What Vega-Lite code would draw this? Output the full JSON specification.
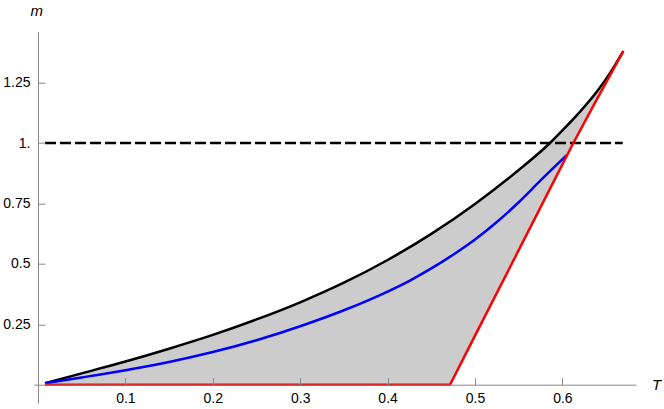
{
  "$schema": "https://vega.github.io/schema/vega-lite/v6.json",
  "width": 602,
  "height": 371.3,
  "autosize": "none",
  "padding": {"left": 34, "top": 31.7, "right": 28, "bottom": 6},
  "background": "white",
  "config": {
    "view": {"stroke": null}
  },
  "datasets": {
    "fill": [
      {"T": 0.008, "top": 0.006, "bottom": 0},
      {"T": 0.05, "top": 0.047, "bottom": 0},
      {"T": 0.1, "top": 0.096, "bottom": 0},
      {"T": 0.15, "top": 0.149, "bottom": 0},
      {"T": 0.2, "top": 0.206, "bottom": 0},
      {"T": 0.25, "top": 0.27, "bottom": 0},
      {"T": 0.3, "top": 0.341, "bottom": 0},
      {"T": 0.35, "top": 0.422, "bottom": 0},
      {"T": 0.4, "top": 0.516, "bottom": 0},
      {"T": 0.45, "top": 0.624, "bottom": 0},
      {"T": 0.4714, "top": 0.676, "bottom": 0},
      {"T": 0.5, "top": 0.748, "bottom": 0.203},
      {"T": 0.54, "top": 0.859, "bottom": 0.486},
      {"T": 0.55, "top": 0.888, "bottom": 0.557},
      {"T": 0.58, "top": 0.981, "bottom": 0.77},
      {"T": 0.5858, "top": 1.0, "bottom": 0.811},
      {"T": 0.6, "top": 1.052, "bottom": 0.912},
      {"T": 0.6125, "top": 1.1, "bottom": 1.0},
      {"T": 0.62, "top": 1.129, "bottom": 1.05},
      {"T": 0.64, "top": 1.215, "bottom": 1.185},
      {"T": 0.655, "top": 1.292, "bottom": 1.283},
      {"T": 0.6697, "top": 1.38, "bottom": 1.38}
    ],
    "black": [
      {"T": 0.008, "m": 0.006},
      {"T": 0.05, "m": 0.047},
      {"T": 0.1, "m": 0.096},
      {"T": 0.15, "m": 0.149},
      {"T": 0.2, "m": 0.206},
      {"T": 0.25, "m": 0.27},
      {"T": 0.3, "m": 0.341},
      {"T": 0.35, "m": 0.422},
      {"T": 0.4, "m": 0.516},
      {"T": 0.45, "m": 0.624},
      {"T": 0.5, "m": 0.748},
      {"T": 0.55, "m": 0.888},
      {"T": 0.5858, "m": 1.0},
      {"T": 0.6, "m": 1.052},
      {"T": 0.62, "m": 1.129},
      {"T": 0.64, "m": 1.215},
      {"T": 0.655, "m": 1.292},
      {"T": 0.6697, "m": 1.38}
    ],
    "blue": [
      {"T": 0.008, "m": 0.006},
      {"T": 0.05, "m": 0.03},
      {"T": 0.1, "m": 0.06},
      {"T": 0.15, "m": 0.094},
      {"T": 0.2, "m": 0.135},
      {"T": 0.25, "m": 0.184},
      {"T": 0.3, "m": 0.242},
      {"T": 0.35, "m": 0.308},
      {"T": 0.4, "m": 0.3855},
      {"T": 0.425, "m": 0.43},
      {"T": 0.45, "m": 0.481},
      {"T": 0.475, "m": 0.538},
      {"T": 0.5, "m": 0.601},
      {"T": 0.525, "m": 0.673},
      {"T": 0.55, "m": 0.755},
      {"T": 0.575, "m": 0.845},
      {"T": 0.59, "m": 0.898},
      {"T": 0.605, "m": 0.95}
    ],
    "red": [
      {"T": 0.008, "m": 0},
      {"T": 0.4714, "m": 0},
      {"T": 0.5, "m": 0.203},
      {"T": 0.54, "m": 0.486},
      {"T": 0.58, "m": 0.77},
      {"T": 0.6125, "m": 1.0},
      {"T": 0.64, "m": 1.185},
      {"T": 0.6697, "m": 1.38}
    ],
    "dash": [
      {"T": 0.008, "m": 1},
      {"T": 0.669, "m": 1}
    ]
  },
  "encoding": {
    "x": {
      "field": "T", "type": "quantitative",
      "scale": {"domain": [-0.00458, 0.6842], "nice": false, "zero": false},
      "axis": {
        "orient": "bottom", "offset": -18.3, "zindex": 1,
        "values": [0.1, 0.2, 0.3, 0.4, 0.5, 0.6], "format": ".1f",
        "grid": false,
        "domainColor": "#888888", "domainWidth": 1,
        "tickColor": "#888888", "tickWidth": 1, "tickSize": -7,
        "labelPadding": 14, "labelFont": "Liberation Sans", "labelFontSize": {"expr": "14"}, "labelColor": "black",
        "labelFlush": false, "labelOverlap": false,
        "title": "T", "titleFont": "Liberation Sans", "titleFontStyle": "italic", "titleFontWeight": "normal",
        "titleFontSize": {"expr": "15"}, "titleColor": "black",
        "titleX": 622, "titleY": 4.3, "titleAlign": "center", "titleBaseline": "alphabetic", "titleAngle": 0
      }
    },
    "y": {
      "field": "m", "type": "quantitative",
      "scale": {"domain": [-0.0757, 1.4605], "nice": false, "zero": false},
      "axis": {
        "orient": "left", "offset": -4, "zindex": 1,
        "values": [0.25, 0.5, 0.75, 1, 1.25], "format": ".2~f",
        "labelExpr": "datum.value == 1 ? '1.' : datum.label",
        "grid": false,
        "domainColor": "#888888", "domainWidth": 1,
        "tickColor": "#888888", "tickWidth": 1, "tickSize": -7,
        "labelPadding": 15, "labelFont": "Liberation Sans", "labelFontSize": {"expr": "14"}, "labelColor": "black",
        "labelFlush": false, "labelOverlap": false,
        "title": "m", "titleFont": "Liberation Sans", "titleFontStyle": "italic", "titleFontWeight": "normal",
        "titleFontSize": {"expr": "15"}, "titleColor": "black",
        "titleX": -1.7, "titleY": -16.7, "titleAlign": "center", "titleBaseline": "alphabetic", "titleAngle": 0
      }
    }
  },
  "layer": [
    {
      "data": {"name": "fill"},
      "mark": {"type": "area", "color": "#cccccc", "opacity": 1},
      "encoding": {
        "y": {"field": "top", "type": "quantitative"},
        "y2": {"field": "bottom"}
      }
    },
    {
      "data": {"name": "dash"},
      "mark": {"type": "line", "color": "black", "strokeWidth": 2.5, "strokeDash": [11, 4]},
      "encoding": {}
    },
    {
      "data": {"name": "black"},
      "mark": {"type": "line", "color": "black", "strokeWidth": 2.5, "interpolate": "monotone"},
      "encoding": {}
    },
    {
      "data": {"name": "blue"},
      "mark": {"type": "line", "color": "#0000ff", "strokeWidth": 2.5, "interpolate": "monotone"},
      "encoding": {}
    },
    {
      "data": {"name": "red"},
      "mark": {"type": "line", "color": "#ff0000", "strokeWidth": 2.5},
      "encoding": {}
    }
  ]
}
